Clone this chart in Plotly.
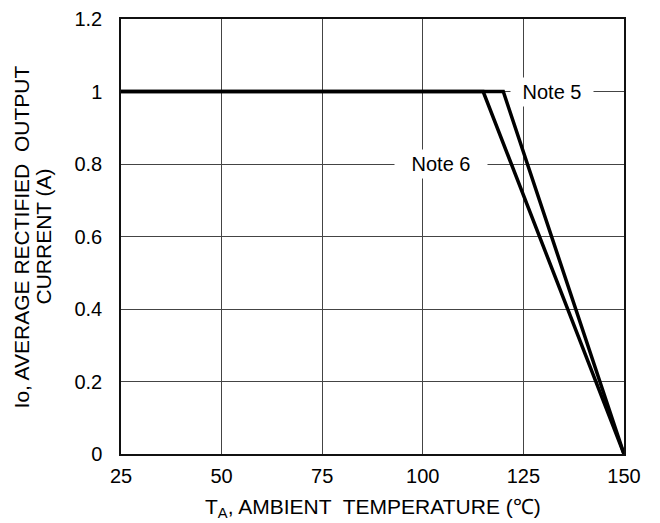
import plotly.graph_objects as go

# Data
note5_x = [25, 120, 150]
note5_y = [1.0, 1.0, 0.0]
note6_x = [25, 115, 150]
note6_y = [1.0, 1.0, 0.0]
x_ticks = [25, 50, 75, 100, 125, 150]
y_ticks = [0, 0.2, 0.4, 0.6, 0.8, 1.0, 1.2]
y_tick_text = ["0", "0.2", "0.4", "0.6", "0.8", "1", "1.2"]

FONT = "Liberation Sans, Arial, sans-serif"
TRANSP = "rgba(0,0,0,0)"

fig = go.Figure()
fig.add_trace(go.Scatter(x=note5_x, y=note5_y, mode="lines",
                         line=dict(color="black", width=3.5), showlegend=False))
fig.add_trace(go.Scatter(x=note6_x, y=note6_y, mode="lines",
                         line=dict(color="black", width=3.5), showlegend=False))

fig.add_annotation(x=132, y=1.0, text="Note 5", showarrow=False,
                   font=dict(family=FONT, size=20, color="black"),
                   bgcolor="white", width=82, height=28, borderpad=0)
fig.add_annotation(x=104.5, y=0.8, text="Note 6", showarrow=False,
                   font=dict(family=FONT, size=20, color="black"),
                   bgcolor="white", width=92, height=28, borderpad=0)

# Axis titles
fig.add_annotation(xref="paper", yref="paper", x=0.5, y=-0.124,
                   text="T<sub>A</sub>, AMBIENT&nbsp; TEMPERATURE (℃)",
                   showarrow=False, xanchor="center", yanchor="middle",
                   font=dict(family=FONT, size=21, color="black"))
fig.add_annotation(xref="paper", yref="paper", x=-0.197, y=0.5,
                   text="Io, AVERAGE RECTIFIED&nbsp; OUTPUT", textangle=-90,
                   showarrow=False, xanchor="center", yanchor="middle",
                   font=dict(family=FONT, size=21, color="black"))
fig.add_annotation(xref="paper", yref="paper", x=-0.155, y=0.5,
                   text="CURRENT (A)", textangle=-90,
                   showarrow=False, xanchor="center", yanchor="middle",
                   font=dict(family=FONT, size=21, color="black"))

fig.update_layout(
    width=660, height=523,
    margin=dict(l=113, r=44, t=11, b=77, autoexpand=False),
    paper_bgcolor="white", plot_bgcolor="white",
    font=dict(family=FONT, size=20, color="black"),
    xaxis=dict(range=[25, 150], tickvals=x_ticks, ticktext=[str(v) for v in x_ticks],
               showgrid=True, gridcolor="#444444", gridwidth=1,
               showline=True, linecolor="#111111", linewidth=1.5, mirror=True,
               zeroline=False, ticks="outside", ticklen=3, tickcolor=TRANSP,
               automargin=False, ticklabeloverflow="allow",
               tickfont=dict(size=20)),
    yaxis=dict(range=[0, 1.2], tickvals=y_ticks, ticktext=y_tick_text,
               showgrid=True, gridcolor="#444444", gridwidth=1,
               showline=True, linecolor="#111111", linewidth=1.5, mirror=True,
               zeroline=False, ticks="outside", ticklen=13, tickcolor=TRANSP,
               automargin=False, ticklabeloverflow="allow",
               tickfont=dict(size=20)),
)

fig.write_html("out.html")
